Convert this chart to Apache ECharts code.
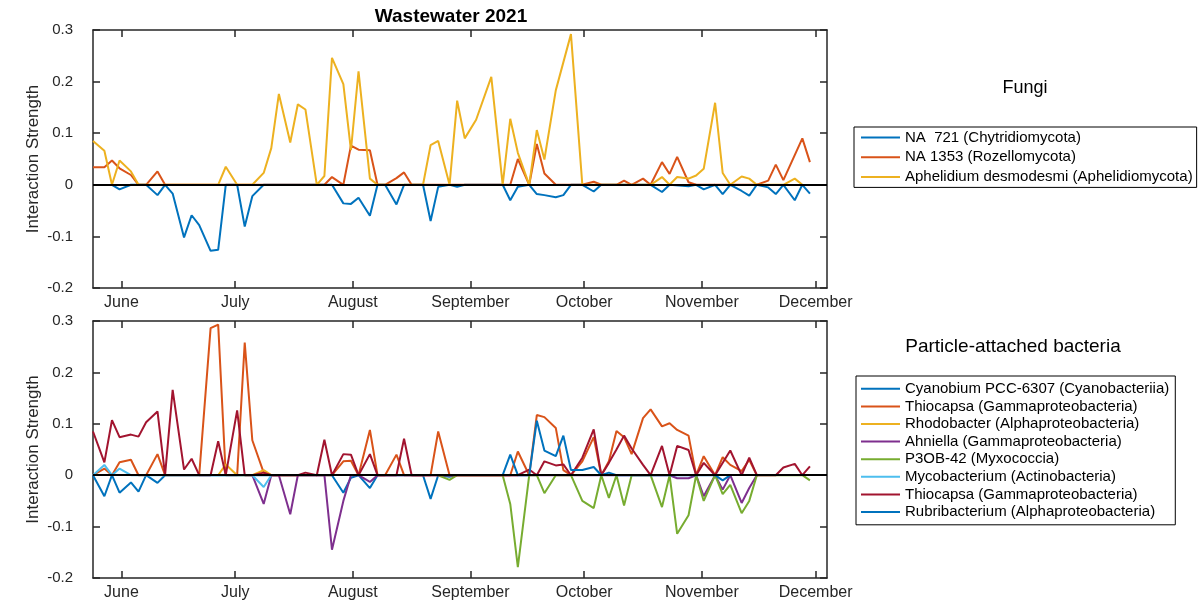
<!DOCTYPE html>
<html><head><meta charset="utf-8">
<script src="https://cdn.jsdelivr.net/npm/echarts@6/dist/echarts.min.js"></script>
<style>html,body{margin:0;padding:0;background:#fff}#c{width:1204px;height:602px}</style>
</head><body><div id="c"></div>
<script>
// ---------------- DATA ----------------
const YEAR = 2021;
const monthTicks = ['06-01','07-01','08-01','09-01','10-01','11-01','12-01'];
const monthLabels = ['June','July','August','September','October','November','December'];
const xRange = ['05-24T12', '12-04T00'];

// Fungi panel
const fungiNames = ['NA  721 (Chytridiomycota)', 'NA 1353 (Rozellomycota)', 'Aphelidium desmodesmi (Aphelidiomycota)'];
const na721 = [['05-29',0],['05-31',-0.009],['06-03',0],['06-07',0],['06-10',-0.02],['06-12',0],['06-14',-0.017],['06-17',-0.102],['06-19',-0.059],['06-21',-0.078],['06-24',-0.128],['06-26',-0.126],['06-28',0],['07-01',0],['07-03',-0.081],['07-05',-0.022],['07-08',0],['07-26',0],['07-29',-0.036],['07-31',-0.037],['08-02',-0.025],['08-05',-0.06],['08-07',0],['08-09',0],['08-12',-0.038],['08-14',0],['08-19',0],['08-21',-0.07],['08-23',-0.004],['08-26',0],['08-28',-0.004],['08-30',0],['09-09',0],['09-11',-0.03],['09-13',-0.004],['09-16',0],['09-18',-0.018],['09-20',-0.02],['09-23',-0.024],['09-25',-0.02],['09-27',0],['09-30',0],['10-03',-0.013],['10-05',0],['10-18',0],['10-21',-0.014],['10-23',0],['10-28',-0.003],['10-30',0],['11-01',-0.009],['11-04',0],['11-06',-0.018],['11-08',0],['11-11',-0.012],['11-13',-0.021],['11-15',0],['11-18',-0.005],['11-20',-0.018],['11-22',0],['11-25',-0.03],['11-27',0],['11-29',-0.017]];
const na1353 = [['05-24',0.034],['05-27',0.034],['05-29',0.047],['05-31',0.032],['06-03',0.019],['06-05',0],['06-07',0],['06-10',0.026],['06-12',0],['07-24',0],['07-26',0.015],['07-29',0],['07-31',0.076],['08-02',0.068],['08-05',0.067],['08-07',0],['08-09',0],['08-12',0.013],['08-14',0.024],['08-16',0],['09-11',0],['09-13',0.05],['09-16',0],['09-18',0.079],['09-20',0.022],['09-23',0],['09-30',0],['10-03',0.006],['10-05',0],['10-09',0],['10-11',0.008],['10-13',0],['10-16',0.012],['10-18',0],['10-21',0.044],['10-23',0.021],['10-25',0.054],['10-28',0.005],['10-30',0],['11-15',0],['11-18',0.008],['11-20',0.039],['11-22',0.009],['11-27',0.09],['11-29',0.044]];
const aphelidium = [['05-24',0.085],['05-27',0.066],['05-29',0],['05-31',0.047],['06-03',0.026],['06-05',0],['06-26',0],['06-28',0.035],['07-01',0],['07-05',0],['07-08',0.023],['07-10',0.071],['07-12',0.176],['07-15',0.082],['07-17',0.156],['07-19',0.146],['07-22',0],['07-24',0.017],['07-26',0.246],['07-29',0.195],['07-31',0.067],['08-02',0.22],['08-05',0.012],['08-07',0],['08-19',0],['08-21',0.077],['08-23',0.085],['08-26',0],['08-28',0.163],['08-30',0.09],['09-02',0.126],['09-06',0.209],['09-09',0],['09-11',0.128],['09-13',0.062],['09-16',0],['09-18',0.106],['09-20',0.049],['09-23',0.183],['09-27',0.292],['09-30',0],['10-18',0],['10-21',0.015],['10-23',0],['10-25',0.015],['10-28',0.012],['10-30',0.018],['11-01',0.031],['11-04',0.159],['11-06',0.023],['11-08',0],['11-11',0.016],['11-13',0.012],['11-15',0],['11-22',0],['11-25',0.012],['11-27',0]];

// Particle-attached bacteria panel
const bactNames = ['Cyanobium PCC-6307 (Cyanobacteriia)','Thiocapsa (Gammaproteobacteria)','Rhodobacter (Alphaproteobacteria)','Ahniella (Gammaproteobacteria)','P3OB-42 (Myxococcia)','Mycobacterium (Actinobacteria)','Thiocapsa (Gammaproteobacteria)','Rubribacterium (Alphaproteobacteria)'];
const cyanobium = [['05-24',0],['05-27',-0.041],['05-29',0],['05-31',-0.034],['06-03',-0.014],['06-05',-0.032],['06-07',0],['06-10',-0.015],['06-12',0],['07-26',0],['07-29',-0.034],['07-31',-0.005],['08-02',0],['08-05',-0.025],['08-07',0],['08-19',0],['08-21',-0.046],['08-23',0],['08-26',-0.003],['08-28',0]];
const thiocapsaA = [['05-24',0],['05-27',0.013],['05-29',0],['05-31',0.025],['06-03',0.03],['06-05',0],['06-07',0],['06-10',0.041],['06-12',0],['06-21',0],['06-24',0.286],['06-26',0.293],['06-28',0],['07-01',0],['07-03',0.258],['07-05',0.068],['07-08',0.005],['07-10',0],['07-26',0],['07-29',0.027],['07-31',0.028],['08-02',0],['08-05',0.088],['08-07',0],['08-09',0],['08-12',0.04],['08-14',0],['08-21',0],['08-23',0.085],['08-26',0],['09-11',0],['09-13',0.046],['09-16',0],['09-18',0.117],['09-20',0.113],['09-23',0.092],['09-25',0.01],['09-27',0],['09-30',0.027],['10-03',0.074],['10-05',0],['10-07',0.027],['10-09',0.086],['10-11',0.074],['10-13',0.041],['10-16',0.111],['10-18',0.128],['10-21',0.095],['10-23',0.101],['10-25',0.088],['10-28',0.077],['10-30',0],['11-01',0.037],['11-04',0],['11-06',0.035],['11-08',0.02],['11-11',0.008],['11-13',0.03],['11-15',0]];
const rhodobacter = [['06-26',0],['06-28',0.021],['07-01',0],['07-05',0],['07-08',0.01],['07-10',0]];
const ahniella = [['07-05',0],['07-08',-0.056],['07-10',0],['07-12',0],['07-15',-0.076],['07-17',0],['07-24',0],['07-26',-0.145],['07-29',-0.05],['07-31',0],['08-02',0],['08-05',-0.013],['08-07',0],['10-23',0],['10-25',-0.006],['10-28',-0.006],['10-30',0],['11-01',-0.041],['11-04',0],['11-06',-0.028],['11-08',0],['11-11',-0.054],['11-13',-0.025],['11-15',0]];
const p3ob42 = [['08-23',0],['08-26',-0.009],['08-28',0],['09-09',0],['09-11',-0.056],['09-13',-0.179],['09-16',0],['09-18',0],['09-20',-0.035],['09-23',0],['09-27',0],['09-30',-0.05],['10-03',-0.064],['10-05',0],['10-07',-0.044],['10-09',0],['10-11',-0.059],['10-13',0],['10-18',0],['10-21',-0.062],['10-23',0],['10-25',-0.114],['10-28',-0.078],['10-30',0],['11-01',-0.05],['11-04',0],['11-06',-0.037],['11-08',-0.019],['11-11',-0.074],['11-13',-0.05],['11-15',0],['11-27',0],['11-29',-0.01]];
const mycobacterium = [['05-24',0],['05-27',0.02],['05-29',0],['05-31',0.013],['06-03',0],['07-05',0],['07-08',-0.023],['07-10',0]];
const thiocapsaB = [['05-24',0.085],['05-27',0.025],['05-29',0.107],['05-31',0.074],['06-03',0.079],['06-05',0.075],['06-07',0.103],['06-10',0.124],['06-12',0],['06-14',0.166],['06-17',0.011],['06-19',0.032],['06-21',0],['06-24',0],['06-26',0.066],['06-28',0],['07-01',0.126],['07-03',0],['07-05',0],['07-08',0.005],['07-10',0],['07-17',0],['07-19',0.005],['07-22',0],['07-24',0.069],['07-26',0],['07-29',0.041],['07-31',0.04],['08-02',0],['08-05',0.041],['08-07',0],['08-12',0],['08-14',0.071],['08-16',0],['09-13',0],['09-16',0.011],['09-18',0],['09-20',0.027],['09-23',0.019],['09-25',0.021],['09-27',0],['09-30',0.034],['10-03',0.089],['10-05',0],['10-07',0.024],['10-09',0.05],['10-11',0.077],['10-13',0.052],['10-16',0.02],['10-18',0],['10-21',0.057],['10-23',0],['10-25',0.057],['10-28',0.049],['10-30',0],['11-01',0.024],['11-04',0],['11-08',0.048],['11-11',0],['11-13',0.034],['11-15',0],['11-20',0],['11-22',0.015],['11-25',0.022],['11-27',0],['11-29',0.017]];
const rubribacterium = [['09-09',0],['09-11',0.04],['09-13',0],['09-16',0],['09-18',0.106],['09-20',0.048],['09-23',0.037],['09-25',0.077],['09-27',0.01],['09-30',0.01],['10-03',0.016],['10-05',0],['10-07',0.005],['10-09',0],['11-04',0],['11-06',-0.01],['11-08',0]];

// ---------------- CHART ----------------
const FONT = '"Liberation Sans", Arial, Helvetica, sans-serif';
const TXT = '#262626';
const C = ['#0072BD','#D95319','#EDB120','#7E2F8E','#77AC30','#4DBEEE','#A2142F','#0072BD'];

function stamp(s) { // 'MM-DD' (noon) or 'MM-DDTHH'
  const m = +s.slice(0,2), d = +s.slice(3,5);
  const h = s.length > 5 ? +s.slice(6) : 12;
  return Date.UTC(YEAR, m - 1, d, h);
}
const tickVals = monthTicks.map(s => Date.UTC(YEAR, +s.slice(0,2) - 1, +s.slice(3,5)));
const xMin = stamp(xRange[0]), xMax = stamp(xRange[1]);
const toXY = arr => arr.map(p => [stamp(p[0]), p[1]]);

const grids = [
  {left: 93, right: 377, top: 30, height: 258},
  {left: 93, right: 377, top: 321, height: 257}
];
const axisLineStyle = {color: TXT, width: 1.5};
const xAxes = [], yAxes = [];
grids.forEach((g, i) => {
  ['bottom', 'top'].forEach(pos => xAxes.push({
    gridIndex: i, type: 'value', min: xMin, max: xMax, position: pos,
    axisLine: {show: true, onZero: false, lineStyle: axisLineStyle},
    axisTick: {show: true, inside: true, length: 7, customValues: tickVals, lineStyle: axisLineStyle},
    axisLabel: {show: pos === 'bottom', customValues: tickVals, margin: 7,
      formatter: v => monthLabels[tickVals.indexOf(v)] || '',
      fontSize: 16, fontFamily: FONT, color: TXT},
    splitLine: {show: false}
  }));
  ['left', 'right'].forEach(pos => yAxes.push({
    gridIndex: i, type: 'value', min: -0.2, max: 0.3, interval: 0.1, position: pos,
    name: pos === 'left' ? 'Interaction Strength' : '', nameLocation: 'middle', nameGap: 51,
    nameMoveOverlap: false,
    nameTextStyle: {fontSize: 17, fontFamily: FONT, color: TXT},
    axisLine: {show: true, onZero: false, lineStyle: axisLineStyle},
    axisTick: {show: true, inside: true, length: 7, lineStyle: axisLineStyle},
    axisLabel: {show: pos === 'left', margin: 20, fontSize: 15, fontFamily: FONT, color: TXT,
      formatter: v => (Math.round(v * 10) / 10).toString()},
    splitLine: {show: false}
  }));
});

const series = [];
function addLine(name, data, color, gi) {
  series.push({name, type: 'line', xAxisIndex: gi * 2, yAxisIndex: gi * 2, data: toXY(data),
    symbol: 'none', color, lineStyle: {width: 2, color}, itemStyle: {color}, silent: true, animation: false});
}
const fungiData = [na721, na1353, aphelidium];
fungiData.forEach((d, k) => addLine(fungiNames[k], d, C[k], 0));
const bactData = [cyanobium, thiocapsaA, rhodobacter, ahniella, p3ob42, mycobacterium, thiocapsaB, rubribacterium];
// legend items need unique keys: the second "Thiocapsa" gets a trailing space
const bactKeys = bactNames.map((n, k) => bactNames.indexOf(n) !== k ? n + ' ' : n);
bactData.forEach((d, k) => addLine(bactKeys[k], d, C[k], 1));
[0, 1].forEach(gi => series.push({
  name: 'zero' + gi, type: 'line', xAxisIndex: gi * 2, yAxisIndex: gi * 2, data: [], z: 10, silent: true, animation: false,
  markLine: {silent: true, symbol: ['none', 'none'], label: {show: false}, animation: false,
    lineStyle: {color: '#000', width: 2, type: 'solid'}, data: [{yAxis: 0}]}
}));

const legendBase = {orient: 'vertical', icon: 'rect', itemWidth: 39, itemHeight: 2, selectedMode: false,
  borderColor: '#000', borderWidth: 1, backgroundColor: '#fff'};
const option = {
  backgroundColor: '#fff',
  animation: false,
  grid: grids,
  xAxis: xAxes,
  yAxis: yAxes,
  legend: [
    Object.assign({}, legendBase, {data: fungiNames, left: 854, top: 127, itemGap: 2.7, padding: [2, 4, 2, 7],
      textStyle: {fontSize: 15, fontFamily: FONT, color: '#000', lineHeight: 17}}),
    Object.assign({}, legendBase, {data: bactKeys, left: 856, top: 376, itemGap: 0, padding: [4, 6, 4, 5],
      textStyle: {fontSize: 15, fontFamily: FONT, color: '#000', lineHeight: 17.6}})
  ],
  graphic: [
    {type: 'text', x: 451, y: 17, style: {text: 'Wastewater 2021', textAlign: 'center', align: 'center', textVerticalAlign: 'middle', verticalAlign: 'middle', fontSize: 19, fontWeight: 'bold', fontFamily: FONT, fill: '#000'}},
    {type: 'text', x: 1025, y: 88, style: {text: 'Fungi', textAlign: 'center', align: 'center', textVerticalAlign: 'middle', verticalAlign: 'middle', fontSize: 18, fontFamily: FONT, fill: '#000'}},
    {type: 'text', x: 1013, y: 347, style: {text: 'Particle-attached bacteria', textAlign: 'center', align: 'center', textVerticalAlign: 'middle', verticalAlign: 'middle', fontSize: 19, fontFamily: FONT, fill: '#000'}}
  ],
  series
};
const chart = echarts.init(document.getElementById('c'), null, {renderer: 'canvas'});
chart.setOption(option);
</script>
</body></html>
